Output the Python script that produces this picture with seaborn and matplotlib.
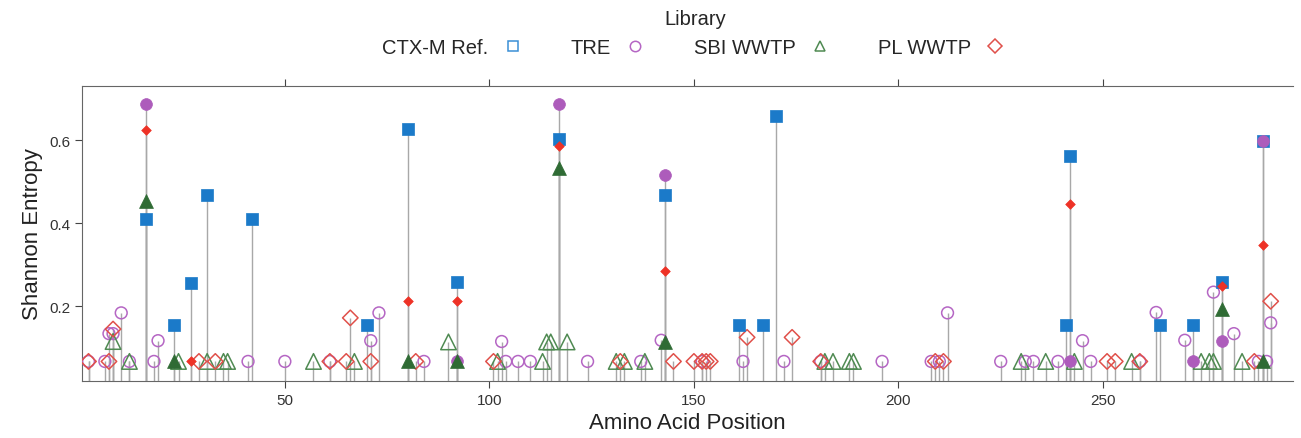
import pandas as pd
import matplotlib
matplotlib.use("Agg")
import matplotlib.pyplot as plt
from matplotlib.lines import Line2D
import seaborn as sns

sns.set_style("ticks")
plt.rcParams['font.family'] = ['Liberation Sans', 'DejaVu Sans']

# CTX-M reference (all filled squares)
ctx_pos = [16, 23, 27, 31, 42, 70, 80, 92, 117, 143, 161, 167, 170, 241, 242, 264, 272, 279, 289]
ctx_val = [0.41, 0.154, 0.257, 0.468, 0.41, 0.154, 0.628, 0.259, 0.602, 0.469,
           0.155, 0.155, 0.658, 0.154, 0.562, 0.154, 0.154, 0.259, 0.598]

# TRE
tre_open_pos = [2, 6, 7, 8, 10, 12, 18, 19, 41, 50, 61, 71, 73, 84, 103, 104, 107, 110,
                124, 137, 142, 152, 162, 172, 181, 196, 208, 210, 212, 225, 231, 233,
                239, 245, 247, 259, 263, 270, 277, 282, 288, 290, 291]
tre_open_val = [0.067, 0.067, 0.134, 0.134, 0.184, 0.067, 0.067, 0.117, 0.067, 0.067,
                0.067, 0.117, 0.184, 0.067, 0.115, 0.067, 0.067, 0.067,
                0.067, 0.067, 0.118, 0.067, 0.067, 0.067, 0.067, 0.067, 0.067, 0.067,
                0.184, 0.067, 0.067, 0.067,
                0.067, 0.117, 0.067, 0.067, 0.185, 0.118, 0.234, 0.134, 0.067, 0.067, 0.16]
tre_fill_pos = [16, 92, 117, 143, 242, 272, 279, 289]
tre_fill_val = [0.687, 0.067, 0.687, 0.516, 0.067, 0.067, 0.117, 0.598]

# SBI WWTP
sbi_open_pos = [8, 12, 24, 31, 35, 36, 57, 67, 90, 102, 113, 114, 115, 119, 131, 133,
                138, 182, 184, 188, 189, 230, 236, 243, 257, 274, 276, 277, 284]
sbi_open_val = [0.115, 0.067, 0.067, 0.067, 0.067, 0.067, 0.067, 0.067, 0.114, 0.067,
                0.067, 0.114, 0.114, 0.114, 0.067, 0.067,
                0.067, 0.067, 0.067, 0.067, 0.067, 0.067, 0.067, 0.067, 0.067, 0.067,
                0.067, 0.067, 0.067]
sbi_fill_pos = [16, 23, 80, 92, 117, 143, 279, 289]
sbi_fill_val = [0.453, 0.067, 0.067, 0.067, 0.534, 0.115, 0.193, 0.067]

# PL WWTP
pl_open_pos = [2, 7, 8, 29, 33, 61, 65, 66, 71, 82, 101, 132, 145, 150, 152, 153, 154,
               163, 174, 181, 209, 211, 251, 253, 259, 287, 291]
pl_open_val = [0.067, 0.067, 0.145, 0.067, 0.067, 0.067, 0.067, 0.172, 0.067, 0.067,
               0.067, 0.067, 0.067, 0.067, 0.067, 0.067, 0.067,
               0.125, 0.125, 0.067, 0.067, 0.067, 0.067, 0.067, 0.067, 0.067, 0.212]
pl_fill_pos = [16, 27, 80, 92, 117, 143, 242, 279, 289]
pl_fill_val = [0.624, 0.067, 0.212, 0.212, 0.586, 0.284, 0.447, 0.249, 0.347]

libraries = ["CTX-M Ref.", "TRE", "SBI WWTP", "PL WWTP"]
colors = {"CTX-M Ref.": "#1b7ac9", "TRE": "#ad5cbb", "SBI WWTP": "#2f6b34", "PL WWTP": "#ee3226"}
open_edge = {"CTX-M Ref.": "#3a8fd6", "TRE": "#b566c4", "SBI WWTP": "#4f8a52", "PL WWTP": "#e0504a"}
markers = {"CTX-M Ref.": "s", "TRE": "o", "SBI WWTP": "^", "PL WWTP": "D"}
open_size = {"CTX-M Ref.": 64, "TRE": 72, "SBI WWTP": 125, "PL WWTP": 62}
fill_size = {"CTX-M Ref.": 66, "TRE": 72, "SBI WWTP": 100, "PL WWTP": 24}

rows = []
for lib, pos, val, filled in [
    ("CTX-M Ref.", ctx_pos, ctx_val, True),
    ("TRE", tre_open_pos, tre_open_val, False),
    ("TRE", tre_fill_pos, tre_fill_val, True),
    ("SBI WWTP", sbi_open_pos, sbi_open_val, False),
    ("SBI WWTP", sbi_fill_pos, sbi_fill_val, True),
    ("PL WWTP", pl_open_pos, pl_open_val, False),
    ("PL WWTP", pl_fill_pos, pl_fill_val, True),
]:
    for p, v in zip(pos, val):
        rows.append({"Library": lib, "pos": p, "entropy": v, "filled": filled})
df = pd.DataFrame(rows)

fig, ax = plt.subplots(figsize=(13.01, 4.39), dpi=100)
fig.subplots_adjust(left=0.063, right=0.994, bottom=0.13, top=0.802)

ymin = 0.02
ax.vlines(df["pos"], ymin, df["entropy"], color="#a8a8a8", lw=1.0, zorder=1)

# open markers first, filled ones drawn on top
for lib in libraries:
    sub = df[(df["Library"] == lib) & (~df["filled"])]
    if len(sub):
        sns.scatterplot(data=sub, x="pos", y="entropy", marker=markers[lib], s=open_size[lib],
                        color=open_edge[lib], facecolor="none", edgecolor=open_edge[lib],
                        linewidth=1.1, legend=False, ax=ax, zorder=3)

for lib in libraries:
    sub = df[(df["Library"] == lib) & (df["filled"])]
    sns.scatterplot(data=sub, x="pos", y="entropy", marker=markers[lib], s=fill_size[lib],
                    color=colors[lib], edgecolor=colors[lib], linewidth=0.5,
                    legend=False, ax=ax, zorder=4)

ax.set_xlim(0.4, 296.5)
ax.set_ylim(ymin, 0.731)
ax.set_xticks([50, 100, 150, 200, 250])
ax.set_yticks([0.2, 0.4, 0.6])
ax.set_xlabel("Amino Acid Position", fontsize=16, color="#222222")
ax.set_ylabel("Shannon Entropy", fontsize=16, color="#222222")
ax.tick_params(axis="both", labelsize=11, colors="#444444", labelcolor="#333333", length=5)
ax.tick_params(axis="x", top=True)
sns.despine(ax=ax, top=False, right=True)
for sp in ["left", "bottom", "top"]:
    ax.spines[sp].set_color("#666666")

handles = [Line2D([], [], linestyle="none", marker=markers[lib], markersize=7.5 if lib != "PL WWTP" else 7,
                  markerfacecolor="none", markeredgecolor=open_edge[lib], markeredgewidth=1.1)
           for lib in libraries]
leg = ax.legend(handles, libraries, title="Library", ncol=4, markerfirst=False,
                loc="lower center", bbox_to_anchor=(0.506, 1.07), frameon=False,
                fontsize=14.5, title_fontsize=14.5, columnspacing=2.3, handletextpad=0.6,
                borderaxespad=0, handlelength=1.2)

fig.savefig("out.png", dpi=100)
